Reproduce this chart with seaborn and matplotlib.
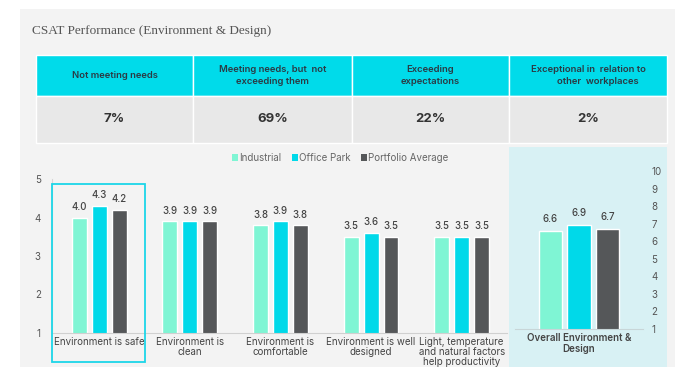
import matplotlib
matplotlib.use("Agg")
import matplotlib.pyplot as plt
import seaborn as sns
import pandas as pd
from matplotlib.patches import Rectangle

# ---------------- data ----------------
headers = ["Not meeting needs", "Meeting needs, but  not\nexceeding them",
           "Exceeding\nexpectations", "Exceptional in  relation to\n        other  workplaces"]
shares = ["7%", "69%", "22%", "2%"]

categories = ["Environment is safe", "Environment is\nclean", "Environment is\ncomfortable",
              "Environment is well\ndesigned", "Light, temperature\nand natural factors\nhelp productivity"]
series = ["Industrial", "Office Park", "Portfolio Average"]
industrial = [4.0, 3.9, 3.8, 3.5, 3.5]
office_park = [4.3, 3.9, 3.9, 3.6, 3.5]
portfolio = [4.2, 3.9, 3.8, 3.5, 3.5]

overall_category = ["Overall Environment &\nDesign"]
overall_industrial = [6.6]
overall_office_park = [6.9]
overall_portfolio = [6.7]

colors = ["#7ff5d4", "#00d9e9", "#555759"]

W, H = 675, 367
sns.set_theme(style="white")
plt.rcParams["font.family"] = ["Inter", "DejaVu Sans"]

fig = plt.figure(figsize=(W / 100, H / 100), dpi=100)
fig.patch.set_facecolor("white")


def fx(x):
    return x / W


def fy(y):
    return 1 - y / H


def frect(x0, y0, x1, y1, **kw):
    r = Rectangle((fx(x0), fy(y1)), fx(x1 - x0), (y1 - y0) / H, transform=fig.transFigure, **kw)
    fig.add_artist(r)
    return r


# background panels
frect(20, 9, 675, 367, facecolor="#f3f3f3", edgecolor="none", zorder=0)
frect(509, 147, 667, 367, facecolor="#d8f1f4", edgecolor="none", zorder=0)

# title
fig.text(fx(32), fy(31), "CSAT Performance (Environment & Design)", family="Liberation Serif",
         fontsize=9.5, color="#555555", va="center", ha="left")

# table
cols = [36, 193, 352, 509, 667]
for i in range(4):
    frect(cols[i], 55, cols[i + 1], 96, facecolor="#00dbea", edgecolor="white", lw=1, zorder=1)
    frect(cols[i], 96, cols[i + 1], 143, facecolor="#e8e8e8", edgecolor="white", lw=1, zorder=1)
    cx = (cols[i] + cols[i + 1]) / 2
    fig.text(fx(cx), fy(75.5), headers[i], ha="center", va="center", fontsize=6.8,
             fontweight="semibold", color="#2b3a44", linespacing=1.3)
    fig.text(fx(cx), fy(119), shares[i], ha="center", va="center", fontsize=9.5,
             fontweight="bold", color="#333333")

# ---------------- left chart ----------------
df = pd.DataFrame({
    "category": categories * 3,
    "series": [s for s in series for _ in categories],
    "value": industrial + office_park + portfolio,
})
ax = fig.add_axes([fx(52), fy(333), fx(507 - 52), (333 - 179) / H])
ax.patch.set_alpha(0)
sns.barplot(data=df, x="category", y="value", hue="series", hue_order=series,
            palette=colors, width=0.66, gap=0.25, ax=ax, legend=False, saturation=1)
ax.set_ylim(1, 5)
ax.set_xlim(-0.52, 4.5)
ax.set_yticks([1, 2, 3, 4, 5])
ax.tick_params(axis="y", labelsize=7, colors="#555555", pad=8, length=0)
ax.tick_params(axis="x", labelsize=7, colors="#444444", pad=3, length=0)
ax.set_xlabel("")
ax.set_ylabel("")
for sp in ["top", "right"]:
    ax.spines[sp].set_visible(False)
ax.spines["left"].set_color("#d6d6d6")
ax.spines["bottom"].set_color("#d0d0d0")
ax.spines["left"].set_linewidth(0.8)
ax.spines["bottom"].set_linewidth(0.8)
for lbl in ax.get_xticklabels():
    lbl.set_linespacing(1.0)
for c in ax.containers:
    ax.bar_label(c, fmt="%.1f", padding=4, fontsize=7, color="#444444", fontweight="medium")

# highlight box
frect(52, 184, 145, 362, facecolor="none", edgecolor="#1cd6e8", lw=1.3, zorder=5)

# legend
handles = [Rectangle((0, 0), 1, 1, facecolor=c, edgecolor="none") for c in colors]
fig.legend(handles, series, loc="center", bbox_to_anchor=(fx(340), fy(158)), ncol=3,
           frameon=False, fontsize=7, handlelength=0.6, handleheight=0.6, handletextpad=0.1,
           columnspacing=1.1, labelcolor="#666666")

# ---------------- right chart ----------------
df2 = pd.DataFrame({
    "category": overall_category * 3,
    "series": series,
    "value": overall_industrial + overall_office_park + overall_portfolio,
})
ax2 = fig.add_axes([fx(515), fy(329), fx(643 - 515), (329 - 171) / H])
ax2.patch.set_alpha(0)
sns.barplot(data=df2, x="category", y="value", hue="series", hue_order=series,
            palette=colors, width=0.67, gap=0.19, ax=ax2, legend=False, saturation=1)
ax2.set_ylim(1, 10)
ax2.set_xlim(-0.5, 0.5)
ax2.set_yticks(range(1, 11))
ax2.yaxis.tick_right()
ax2.tick_params(axis="y", labelsize=7, colors="#555555", pad=6, length=0)
ax2.tick_params(axis="x", labelsize=7, colors="#444444", pad=3, length=0)
for lbl in ax2.get_xticklabels():
    lbl.set_fontweight("semibold")
    lbl.set_linespacing(1.1)
ax2.set_xlabel("")
ax2.set_ylabel("")
for sp in ["top", "right", "left"]:
    ax2.spines[sp].set_visible(False)
ax2.spines["bottom"].set_color("#c8d6d8")
ax2.spines["bottom"].set_linewidth(0.8)
for c in ax2.containers:
    ax2.bar_label(c, fmt="%.1f", padding=5, fontsize=7, color="#444444", fontweight="medium")

fig.savefig("out.png", dpi=100, facecolor=fig.get_facecolor())
